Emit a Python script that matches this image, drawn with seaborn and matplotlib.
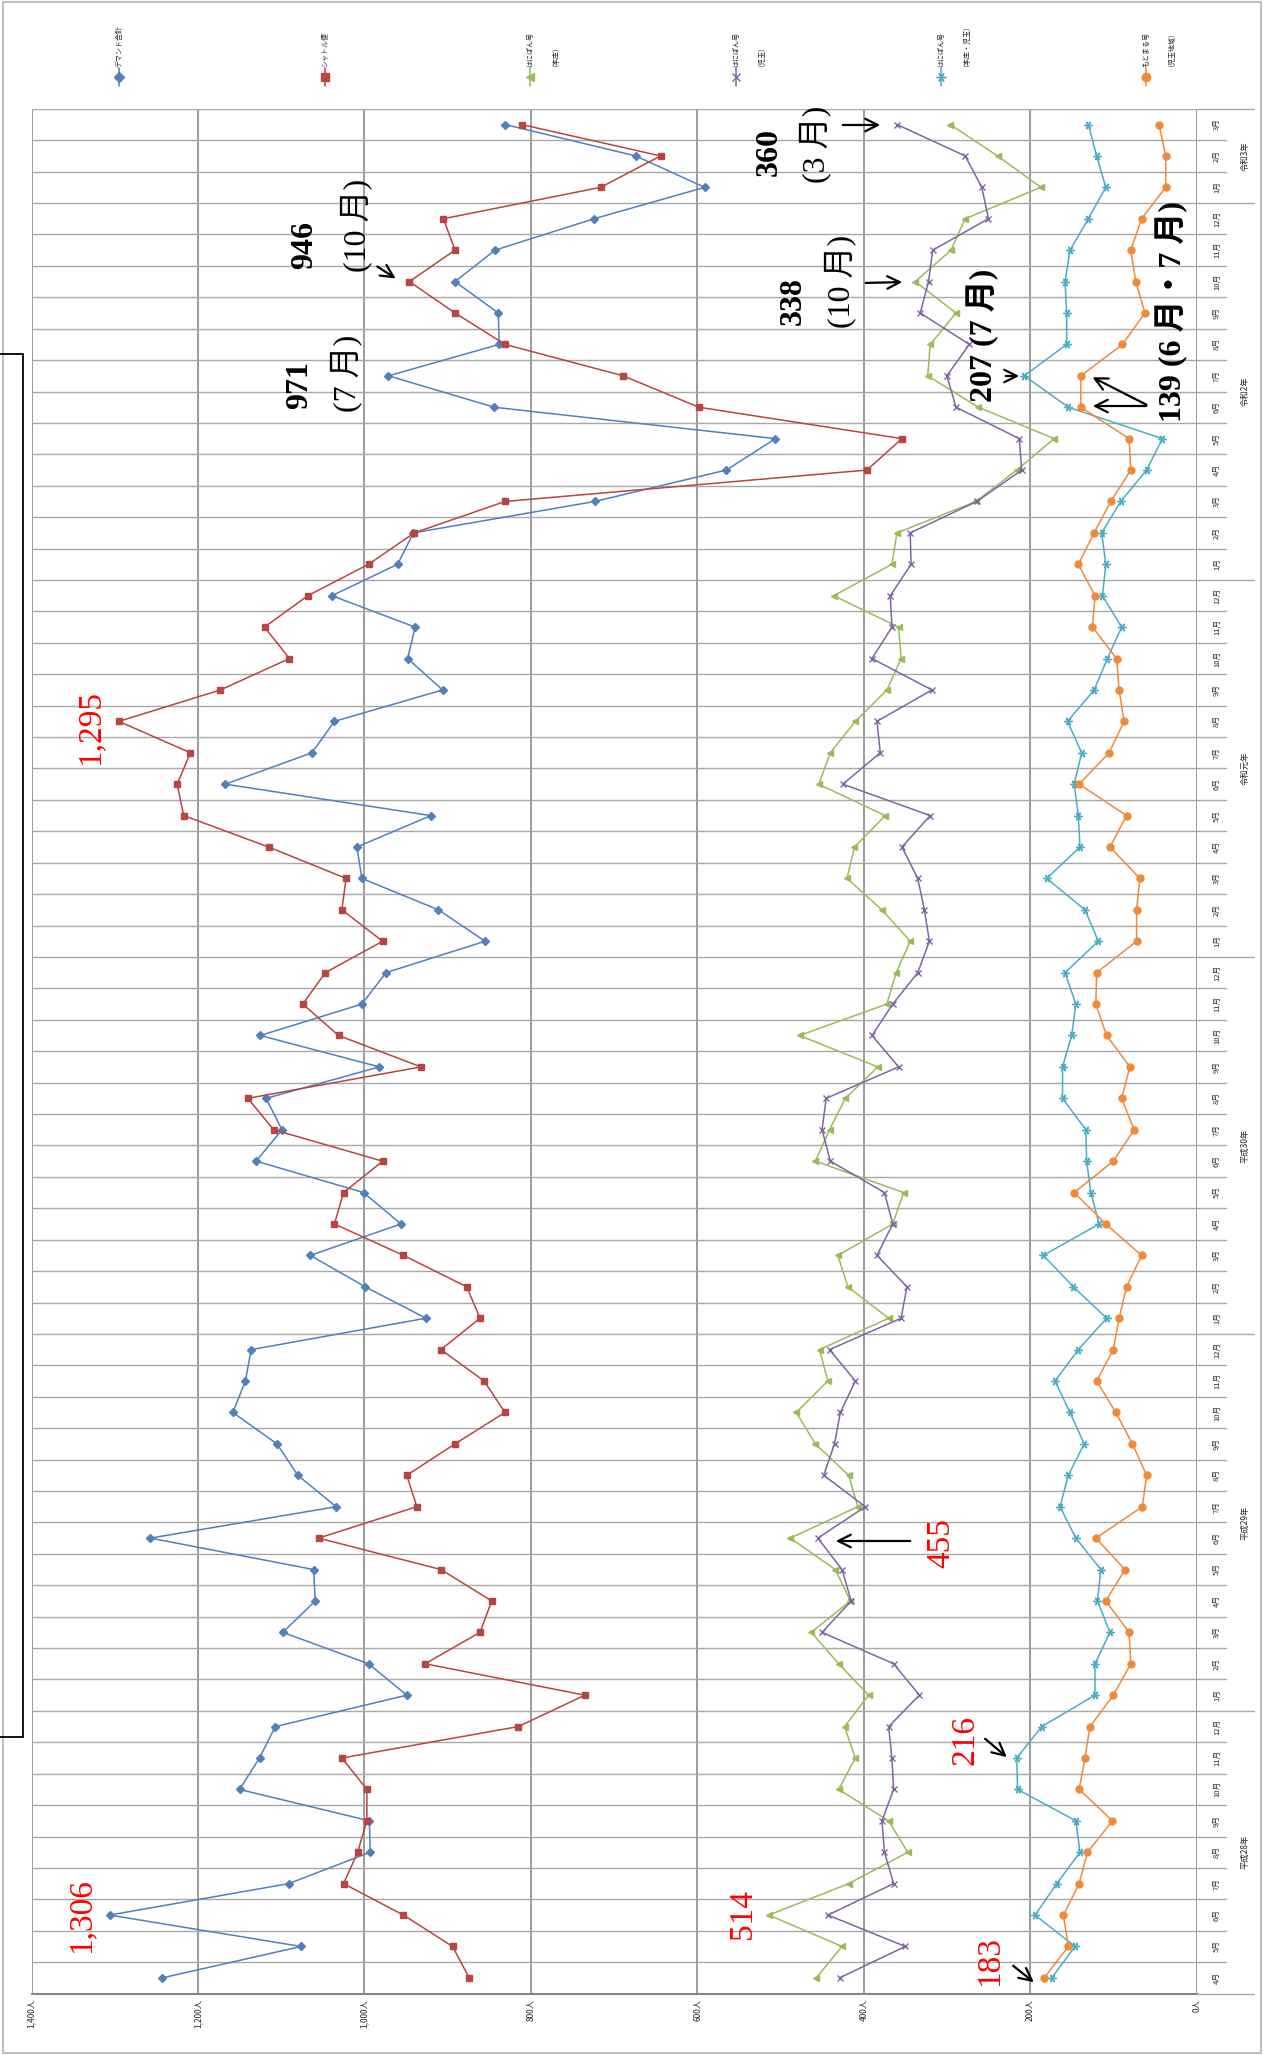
import numpy as np
import pandas as pd
import matplotlib
matplotlib.use('Agg')
import matplotlib.pyplot as plt
import matplotlib.transforms as mtransforms
from matplotlib.lines import Line2D
from matplotlib.patches import Rectangle
import seaborn as sns

# 平成28年4月 -> 令和3年3月 (60 months, oldest first)
months = [f'{m}月' for m in list(range(4, 13)) + list(range(1, 13)) * 4 + [1, 2, 3]]
years = ['平成28年', '平成29年', '平成30年', '令和元年', '令和2年', '令和3年']
year_len = [9, 12, 12, 12, 12, 3]

demand_total = [1243, 1076, 1306, 1091, 993, 994, 1150, 1126, 1107, 949,
                995, 1098, 1059, 1061, 1257, 1034, 1080, 1105, 1158, 1143,
                1136, 926, 999, 1065, 956, 1001, 1130, 1099, 1118, 982,
                1125, 1003, 974, 855, 911, 1003, 1009, 920, 1167, 1063,
                1036, 906, 948, 939, 1039, 960, 941, 723, 565, 506,
                844, 971, 838, 839, 891, 843, 724, 591, 674, 831]
shuttle = [874, 894, 953, 1025, 1008, 997, 997, 1027, 815, 735,
           927, 861, 847, 908, 1055, 937, 949, 891, 831, 856,
           908, 861, 877, 953, 1036, 1025, 978, 1109, 1140, 932,
           1031, 1074, 1047, 978, 1027, 1022, 1115, 1217, 1225, 1209,
           1295, 1173, 1090, 1120, 1068, 995, 940, 831, 396, 354,
           598, 689, 831, 891, 946, 891, 905, 716, 644, 811]
hani_a = [457, 426, 514, 418, 347, 370, 430, 410, 423, 394,
          430, 463, 416, 434, 488, 407, 418, 458, 481, 443,
          453, 370, 419, 431, 365, 352, 458, 441, 422, 383,
          477, 372, 361, 344, 378, 420, 411, 374, 454, 440,
          410, 372, 355, 358, 436, 366, 360, 265, 216, 171,
          262, 323, 320, 289, 338, 295, 278, 187, 239, 296]
hani_b = [429, 350, 443, 364, 375, 378, 364, 366, 370, 333,
          364, 450, 415, 426, 455, 398, 448, 435, 428, 410,
          441, 355, 348, 384, 365, 375, 440, 450, 445, 358,
          390, 365, 335, 321, 327, 335, 354, 320, 425, 380,
          384, 318, 390, 366, 368, 343, 344, 264, 210, 213,
          289, 300, 273, 332, 322, 317, 250, 258, 278, 360]
hani_c = [174, 146, 194, 168, 140, 145, 215, 216, 186, 122,
          122, 104, 119, 115, 145, 164, 154, 135, 152, 170,
          142, 108, 148, 184, 117, 127, 132, 133, 161, 161,
          150, 145, 158, 118, 134, 180, 140, 142, 147, 138,
          155, 123, 107, 90, 113, 109, 114, 91, 60, 41,
          154, 207, 156, 156, 158, 152, 130, 109, 120, 130]
other = [183, 154, 160, 141, 131, 101, 141, 134, 128, 100,
         79, 81, 109, 86, 121, 65, 60, 77, 97, 120,
         100, 93, 84, 66, 109, 147, 100, 75, 90, 80,
         108, 121, 120, 72, 72, 68, 104, 84, 141, 105,
         87, 93, 96, 125, 122, 142, 123, 103, 79, 81,
         139, 139, 89, 62, 73, 79, 66, 37, 37, 45]

series_names = ['デマンド合計', 'シャトル便', 'はにぽん号（本庄）', 'はにぽん号（児玉）',
                'はにぽん号（本庄・児玉）', 'もとまる号（児玉地域）']
series_vals = [demand_total, shuttle, hani_a, hani_b, hani_c, other]
colors = ['#4F81BD', '#B8453F', '#9BBB59', '#8064A2', '#4BACC6', '#F08A3A']
markers = ['D', 's', '<', 'x', (6, 2, 90), 'o']
msizes = [4, 5, 5, 5, 6, 5]

W, H = 1274, 2055
fig = plt.figure(figsize=(W / 100, H / 100), dpi=100)
sns.set_style('white')
plt.rcParams['font.family'] = ['Noto Sans CJK JP', 'DejaVu Sans']

x0, x1, y0, y1 = 31.5, 1196.5, 108.8, 1993.6
ax = fig.add_axes([x0 / W, 1 - y1 / H, (x1 - x0) / W, (y1 - y0) / H])

idx = np.arange(len(months))
df = pd.DataFrame({'idx': idx})
for name, vals in zip(series_names, series_vals):
    df[name] = vals

for name, c, m, ms in zip(series_names, colors, markers, msizes):
    sns.lineplot(data=df, x=name, y='idx', orient='y', sort=False, estimator=None,
                 ax=ax, color=c, marker=m, markersize=ms, markeredgecolor=c,
                 markeredgewidth=1.0, lw=1.1, zorder=3)

ax.set_xlim(1400, 0)
ax.set_ylim(-0.5, len(months) - 0.5)
ax.set_xticks(range(0, 1401, 200))
ax.set_xticklabels([f'{v:,}人' for v in range(0, 1401, 200)], rotation=90, fontsize=6)
ax.set_yticks(np.arange(-0.5, len(months), 1))
ax.set_yticklabels([])
ax.tick_params(length=0, pad=4)
ax.grid(axis='x', color='#8a8a8a', lw=1.2)
ax.grid(axis='y', color='#a8a8a8', lw=1.0)
ax.set_axisbelow(True)
ax.set_xlabel('')
ax.set_ylabel('')
for s in ['top', 'left', 'right']:
    ax.spines[s].set_visible(False)
ax.spines['bottom'].set_color('#868686')
ax.spines['bottom'].set_linewidth(1.5)

# category labels on the right side
tr = mtransforms.blended_transform_factory(ax.transAxes, ax.transData)
ax_w = x1 - x0
for i, lab in enumerate(months):
    ax.text((1217 - x0) / ax_w, i, lab, transform=tr, rotation=90,
            ha='center', va='center', fontsize=5.5)
start = 0
bounds = set()
for yname, n in zip(years, year_len):
    ax.text((1245 - x0) / ax_w, start + (n - 1) / 2, yname, transform=tr, rotation=90,
            ha='center', va='center', fontsize=6)
    start += n
    bounds.add(start)
for b in range(0, len(months) + 1):
    xe = (1254 - x0) / ax_w if (b in bounds or b == 0) else (1226 - x0) / ax_w
    ax.plot([1.0, xe], [b - 0.5, b - 0.5], transform=tr, color='#a8a8a8', lw=1.0, clip_on=False)


def fp(x, y):
    return (x / W, 1 - y / H)


# legend (rotated)
leg_x = [119, 325, 530, 736, 941, 1146]
for lx, name, c, m, ms in zip(leg_x, series_names, colors, markers, msizes):
    fig.add_artist(Line2D([lx / W, lx / W], [1 - 68 / H, 1 - 86 / H], color=c, lw=1.1,
                          transform=fig.transFigure))
    fig.add_artist(Line2D([lx / W], [1 - 77 / H], color=c, marker=m, markersize=ms + 1,
                          markeredgecolor=c, transform=fig.transFigure))
    if '（' in name:
        first, second = name.split('（')
        fig.text(*fp(lx, 67), first, rotation=90, ha='center', va='bottom', fontsize=5)
        fig.text(*fp(lx + 22, 67), '（' + second, rotation=90, ha='center', va='bottom', fontsize=5)
    else:
        fig.text(*fp(lx, 67), name, rotation=90, ha='center', va='bottom', fontsize=5)

serif = ['Liberation Serif', 'Noto Sans CJK JP']
# (text, x, y, bold)
notes_black = [('946', 305, 245, True), ('(10 月)', 356, 225, False),
               ('971', 300, 385, True), ('(7 月)', 346, 373, False),
               ('360', 769, 152, True), ('(3 月)', 815, 144, False),
               ('338', 793, 301, True), ('(10 月)', 840, 281, False),
               ('207 (7 月)', 983, 335, True), ('139 (6 月・7 月)', 1172, 311, True)]
for t, x, y, b in notes_black:
    fig.text(*fp(x, y), t, rotation=90, ha='center', va='center', fontsize=23,
             family=serif, fontweight='bold' if b else 'normal', color='black')
notes_red = [('1,295', 90, 727), ('1,306', 81, 1916), ('514', 743, 1914),
             ('455', 941, 1543), ('216', 965, 1740), ('183', 990, 1961)]
for t, x, y in notes_red:
    fig.text(*fp(x, y), t, rotation=90, ha='center', va='center', fontsize=24,
             family=serif, color='red')

arrows = [((375, 265), (398, 280)), ((840, 125), (883, 125)), ((863, 283), (905, 282)),
          ((1003, 376), (1022, 376)), ((1149, 406), (1090, 376)), ((1149, 406), (1090, 406)),
          ((913, 1541), (833, 1541)), ((983, 1737), (1009, 1759)), ((1011, 1964), (1036, 1984))]
for (tx, ty), (hx, hy) in arrows:
    ax.annotate('', xy=fp(hx, hy), xytext=fp(tx, ty), xycoords='figure fraction',
                textcoords='figure fraction',
                arrowprops=dict(arrowstyle='->,head_length=0.9,head_width=0.45', color='black', lw=1.6))

# frames
fig.add_artist(Rectangle(fp(3, 2053), 1258 / W, 2051 / H, transform=fig.transFigure,
                         fill=False, ec='#bfbfbf', lw=1.5))
fig.add_artist(Rectangle(fp(-5, 1737), 28 / W, 1383 / H, transform=fig.transFigure,
                         fill=False, ec='black', lw=1.3, clip_on=False))

fig.savefig('out.png', dpi=100)
